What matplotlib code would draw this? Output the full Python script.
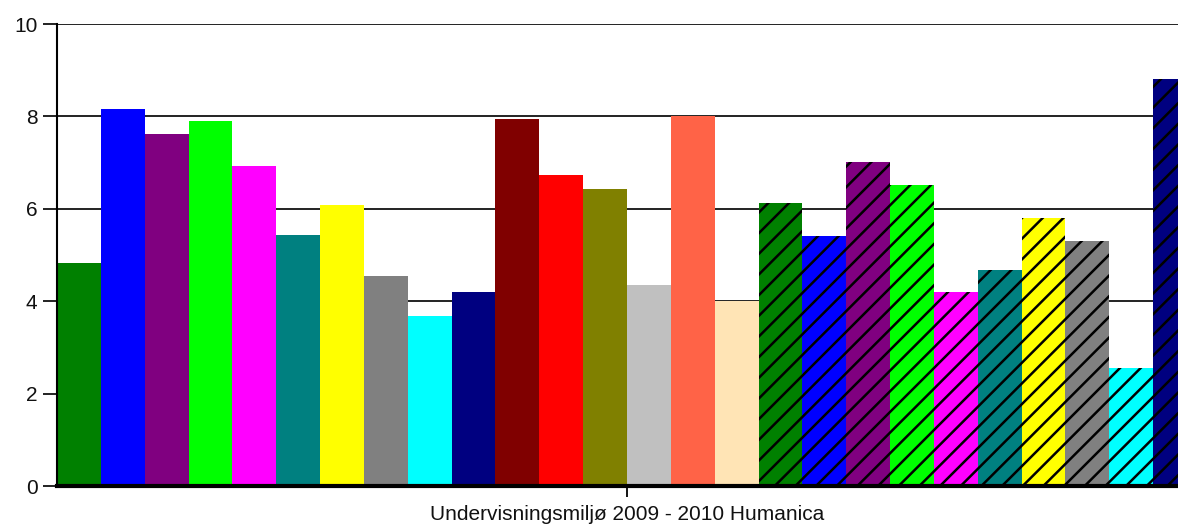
import matplotlib
matplotlib.use("Agg")
import matplotlib.pyplot as plt
import numpy as np

category = "Undervisningsmiljø 2009 - 2010 Humanica"
values = [4.83, 8.17, 7.62, 7.89, 6.92, 5.44, 6.08, 4.54, 3.68, 4.20,
          7.95, 6.74, 6.43, 4.35, 8.01, 4.00,
          6.12, 5.41, 7.02, 6.51, 4.20, 4.67, 5.80, 5.30, 2.56, 8.82]
colors = ["#008000", "#0000FF", "#800080", "#00FF00", "#FF00FF", "#008080",
          "#FFFF00", "#808080", "#00FFFF", "#000080", "#800000", "#FF0000",
          "#808000", "#C0C0C0", "#FF6347", "#FFE4B5",
          "#008000", "#0000FF", "#800080", "#00FF00", "#FF00FF", "#008080",
          "#FFFF00", "#808080", "#00FFFF", "#000080"]
hatches = [""] * 16 + ["//"] * 10

DPI = 124
s = 100 / DPI  # convert sizes designed at dpi 100

plt.rcParams["font.family"] = ["Liberation Sans", "DejaVu Sans"]
plt.rcParams["hatch.linewidth"] = 1.8 * s
plt.rcParams["hatch.color"] = "black"

W, H = 1178, 526
fig = plt.figure(figsize=(W / DPI, H / DPI), dpi=DPI)
left, right, top, bottom = 57, 1197, 24, 486
ax = fig.add_axes([left / W, 1 - bottom / H, (right - left) / W, (bottom - top) / H])

n = len(values)
x = np.arange(n)
for i in range(n):
    ax.bar(x[i], values[i], width=1.0, color=colors[i], hatch=hatches[i],
           edgecolor="black" if hatches[i] else colors[i], linewidth=0, zorder=3)

ax.set_xlim(-0.5, n - 0.5)
ax.set_ylim(0, 10)
ax.set_yticks([0, 2, 4, 6, 8, 10])
ax.yaxis.grid(True, color="#222222", linewidth=1.4 * s, zorder=1)
ax.set_xticks([(n - 1) / 2])
ax.set_xticklabels([category], fontsize=15 * s, color="#111111")
ax.tick_params(axis="y", labelsize=15 * s, length=10 * s, width=1.3 * s,
               colors="#111111", pad=4 * s)
ax.tick_params(axis="x", length=8 * s, width=1.3 * s, pad=6 * s)
for sp in ["top", "right"]:
    ax.spines[sp].set_visible(False)
ax.spines["left"].set_linewidth(1.5 * s)
ax.spines["bottom"].set_linewidth(3 * s)
ax.spines["left"].set_zorder(4)
ax.spines["bottom"].set_zorder(4)

fig.savefig("out.png", dpi=DPI)
